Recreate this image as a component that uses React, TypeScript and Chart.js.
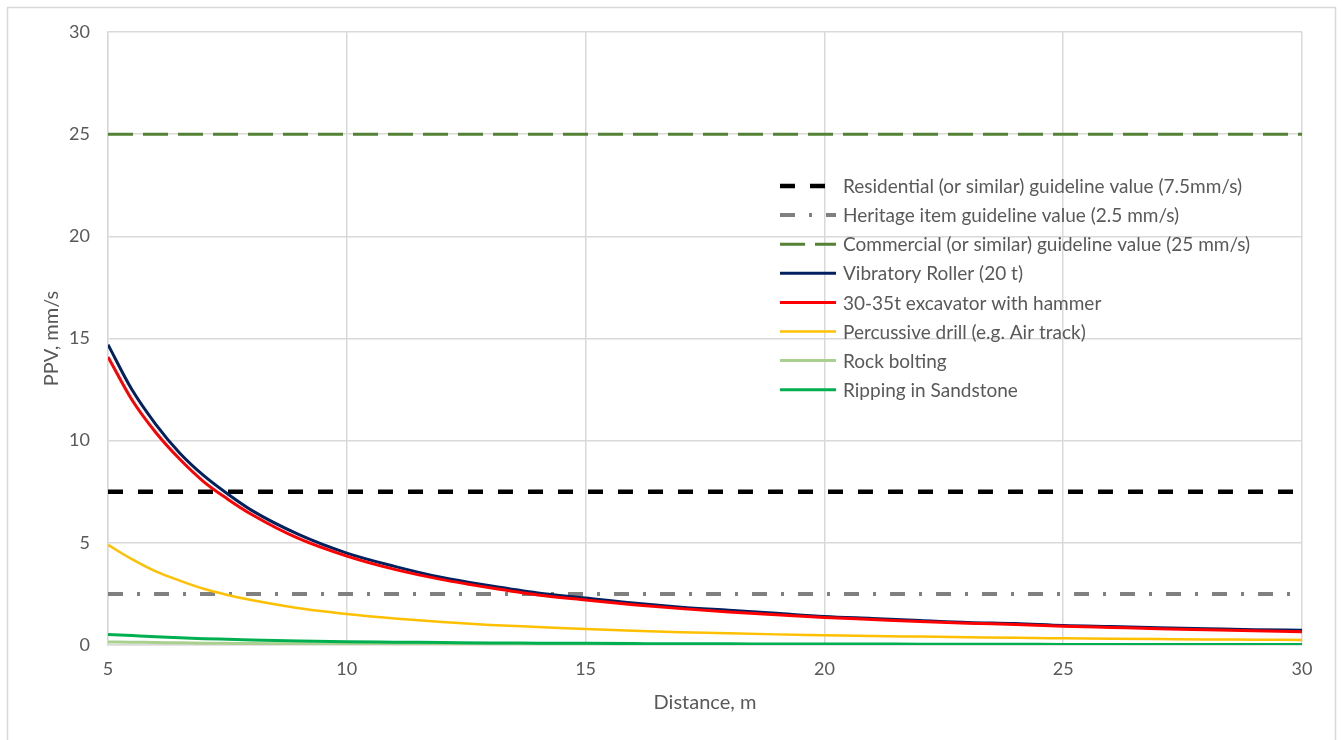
import React, { useEffect, useRef } from "react";
import { Chart, registerables } from "chart.js";

Chart.register(...registerables);

const distances = [5, 5.5, 6, 6.5, 7, 7.5, 8, 9, 10, 11, 12, 13, 14, 15, 16, 17, 18, 19, 20, 21, 22, 23, 24, 25, 26, 27, 28, 29, 30];

const vibratoryRoller = [14.7, 12.5, 10.8, 9.4, 8.3, 7.4, 6.6, 5.4, 4.5, 3.85, 3.3, 2.9, 2.55, 2.3, 2.05, 1.85, 1.7, 1.55, 1.4, 1.3, 1.2, 1.1, 1.05, 0.95, 0.9, 0.85, 0.8, 0.75, 0.72];
const excavatorHammer = [14.1, 12.0, 10.4, 9.1, 8.0, 7.15, 6.4, 5.2, 4.35, 3.7, 3.2, 2.8, 2.45, 2.2, 1.97, 1.78, 1.62, 1.48, 1.35, 1.25, 1.15, 1.07, 1.0, 0.92, 0.86, 0.8, 0.75, 0.7, 0.65];
const percussiveDrill = [4.9, 4.2, 3.6, 3.15, 2.75, 2.45, 2.2, 1.8, 1.52, 1.3, 1.12, 0.98, 0.88, 0.78, 0.7, 0.63, 0.57, 0.52, 0.48, 0.44, 0.41, 0.38, 0.35, 0.33, 0.31, 0.29, 0.27, 0.26, 0.25];
const rockBolting = [0.15, 0.14, 0.12, 0.11, 0.09, 0.08, 0.07, 0.06, 0.05, 0.04, 0.04, 0.03, 0.03, 0.03, 0.02, 0.02, 0.02, 0.02, 0.02, 0.01, 0.01, 0.01, 0.01, 0.01, 0.01, 0.01, 0.01, 0.01, 0.01];
const rippingSandstone = [0.52, 0.46, 0.4, 0.35, 0.31, 0.28, 0.25, 0.2, 0.16, 0.14, 0.12, 0.1, 0.09, 0.08, 0.07, 0.06, 0.06, 0.05, 0.05, 0.05, 0.04, 0.04, 0.04, 0.03, 0.03, 0.03, 0.03, 0.03, 0.03];

const guidelineRange = [5, 30];
const residentialValue = 7.5;
const heritageValue = 2.5;
const commercialValue = 25;

const xTicks = [5, 10, 15, 20, 25, 30];
const yTicks = [0, 5, 10, 15, 20, 25, 30];

const labels = [
  "Residential (or similar) guideline value (7.5mm/s)",
  "Heritage item guideline value (2.5 mm/s)",
  "Commercial (or similar) guideline value (25 mm/s)",
  "Vibratory Roller (20 t)",
  "30-35t excavator with hammer",
  "Percussive drill (e.g. Air track)",
  "Rock bolting",
  "Ripping in Sandstone",
];

const FONT = "Lato, 'Open Sans', sans-serif";
const TEXT = "#595959";

const toPoints = (xs: number[], ys: number[]) => xs.map((x, i) => ({ x, y: ys[i] }));
const flat = (v: number) => guidelineRange.map((x) => ({ x, y: v }));

const legendPlugin = {
  id: "customLegend",
  afterDraw(chart: any) {
    const { ctx, chartArea } = chart;
    const x0 = chartArea.left + 672;
    const y0 = chartArea.top + 154;
    const rowH = 29.1;
    ctx.save();
    ctx.font = `19px ${FONT}`;
    ctx.textBaseline = "middle";
    ctx.fillStyle = TEXT;
    chart.data.datasets.forEach((ds: any, i: number) => {
      const y = y0 + i * rowH;
      ctx.save();
      ctx.strokeStyle = ds.borderColor;
      ctx.lineWidth = ds.borderWidth;
      ctx.setLineDash(ds.borderDash || []);
      ctx.beginPath();
      ctx.moveTo(x0, y);
      ctx.lineTo(x0 + 56, y);
      ctx.stroke();
      ctx.restore();
      ctx.fillText(ds.label, x0 + 63, y + 1);
    });
    ctx.restore();
  },
};

const borderPlugin = {
  id: "outerBorder",
  beforeDraw(chart: any) {
    const { ctx } = chart;
    ctx.save();
    ctx.fillStyle = "#ffffff";
    ctx.fillRect(0, 0, chart.width, chart.height);
    ctx.strokeStyle = "#d9d9d9";
    ctx.lineWidth = 1.5;
    ctx.strokeRect(7.5, 7.5, 1328, 760);
    ctx.restore();
  },
};

export default function App() {
  const ref = useRef<HTMLCanvasElement | null>(null);

  useEffect(() => {
    if (!ref.current) return;
    const chart = new Chart(ref.current, {
      type: "line",
      data: {
        datasets: [
          { label: labels[0], data: flat(residentialValue), borderColor: "#000000", borderWidth: 4.5, borderDash: [15, 15], order: 9 },
          { label: labels[1], data: flat(heritageValue), borderColor: "#808080", borderWidth: 4, borderDash: [15, 14, 3, 14], order: 8 },
          { label: labels[2], data: flat(commercialValue), borderColor: "#548235", borderWidth: 3, borderDash: [25, 10], order: 7 },
          { label: labels[3], data: toPoints(distances, vibratoryRoller), borderColor: "#002060", borderWidth: 3, order: 6 },
          { label: labels[4], data: toPoints(distances, excavatorHammer), borderColor: "#ff0000", borderWidth: 3, order: 5 },
          { label: labels[5], data: toPoints(distances, percussiveDrill), borderColor: "#ffc000", borderWidth: 2.5, order: 4 },
          { label: labels[6], data: toPoints(distances, rockBolting), borderColor: "#a9d08e", borderWidth: 3, order: 3 },
          { label: labels[7], data: toPoints(distances, rippingSandstone), borderColor: "#00b050", borderWidth: 3, order: 2 },
        ].map((d) => ({ ...d, pointRadius: 0, fill: false, tension: 0.4, cubicInterpolationMode: "monotone" as const })),
      },
      options: {
        animation: false,
        responsive: false,
        maintainAspectRatio: false,
        layout: { padding: { left: 0, top: 32, right: 40, bottom: 0 } },
        plugins: { legend: { display: false }, tooltip: { enabled: false } },
        scales: {
          x: {
            type: "linear",
            min: 5,
            max: 30,
            afterBuildTicks: (s: any) => { s.ticks = xTicks.map((v) => ({ value: v })); },
            afterFit: (s: any) => { s.height = 95; },
            grid: { color: "#d9d9d9", lineWidth: 1.5, drawTicks: false },
            border: { color: "#d9d9d9", width: 1.5 },
            ticks: { color: TEXT, font: { family: FONT, size: 18 }, padding: 13, maxRotation: 0 },
            title: { display: true, text: "Distance, m", color: TEXT, font: { family: FONT, size: 20 }, padding: { top: 0, bottom: 25 } },
          },
          y: {
            type: "linear",
            min: 0,
            max: 30,
            afterBuildTicks: (s: any) => { s.ticks = yTicks.map((v) => ({ value: v })); },
            afterFit: (s: any) => { s.width = 108; },
            grid: { color: "#d9d9d9", lineWidth: 1.5, drawTicks: false },
            border: { color: "#d9d9d9", width: 1.5 },
            ticks: { color: TEXT, font: { family: FONT, size: 18 }, padding: 18 },
            title: { display: true, text: "PPV, mm/s", color: TEXT, font: { family: FONT, size: 20 }, padding: { top: 40, bottom: 0 } },
          },
        },
      },
      plugins: [borderPlugin, legendPlugin],
    });
    return () => chart.destroy();
  }, []);

  return (
    <div style={{ position: "fixed", left: 0, top: 0, width: 1342, height: 740, background: "#fff" }}>
      <canvas ref={ref} width={1342} height={740} style={{ width: 1342, height: 740, display: "block" }} />
    </div>
  );
}
